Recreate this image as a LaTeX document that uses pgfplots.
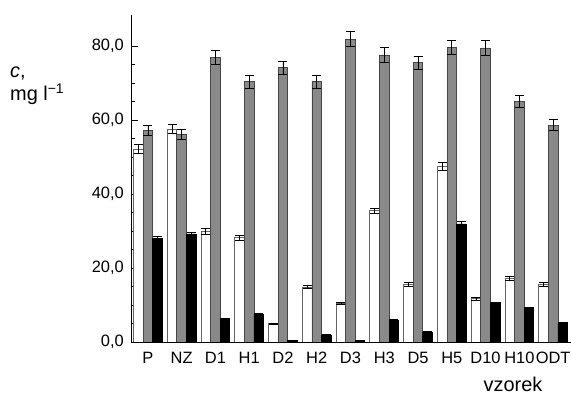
\documentclass[border=0pt]{standalone}
\usepackage{fontspec}
\setmainfont{Liberation Sans}
\usepackage{pgfplots}
\usepackage{pgfplotstable}
\pgfplotsset{compat=1.18}
\definecolor{barg}{RGB}{137,137,137}
\definecolor{edg}{RGB}{70,70,70}
\definecolor{wedg}{RGB}{100,100,100}
\pgfplotstableread{
x y e
0 52.2 1.3
1 57.6 1.3
2 29.9 0.7
3 28.2 0.6
4 4.9 0.2
5 14.8 0.4
6 10.4 0.2
7 35.5 0.7
8 15.5 0.5
9 47.4 1.1
10 11.7 0.4
11 17.3 0.5
12 15.5 0.5
}\whitedata
\pgfplotstableread{
x y e
0 57.3 1.4
1 56.1 1.4
2 77.0 1.9
3 70.4 1.8
4 74.1 1.7
5 70.4 1.8
6 81.9 2.0
7 77.6 2.0
8 75.5 1.8
9 79.7 1.9
10 79.5 2.0
11 65.1 1.7
12 58.6 1.5
}\graydata
\pgfplotstableread{
x y e
0 28.0 0.5
1 29.2 0.5
2 6.3 0.2
3 7.5 0.2
4 0.3 0.1
5 1.9 0.1
6 0.3 0.1
7 5.8 0.2
8 2.7 0.1
9 31.9 0.7
10 10.6 0.2
11 9.3 0.2
12 5.2 0.2
}\blackdata
\begin{document}
\begin{tikzpicture}
\useasboundingbox (-131bp,-52bp) rectangle (440bp,342bp);
\begin{axis}[
  scale only axis, width=440bp, height=327bp,
  xmin=-0.5, xmax=12.53, ymin=0, ymax=88.4,
  axis x line=bottom, axis y line=left,
  axis line style={-, line width=0.8bp, black},
  ybar=0pt, bar width=9.6bp,
  xtick={0,...,12},
  xticklabels={P,NZ,D1,H1,D2,H2,D3,H3,D5,H5,D10,H10,ODT},
  x tick style={draw=none},
  ytick={0,20,40,60,80}, minor y tick num=3,
  tick align=inside, major tick length=7bp, minor tick length=4bp,
  y tick style={line width=0.8bp, black},
  tick label style={font=\fontsize{16.5}{19}\selectfont},
  yticklabel style={inner sep=0pt, anchor=east, xshift=-7bp},
  xticklabel style={inner sep=0pt, anchor=north, yshift=-10bp},
  yticklabel={\pgfmathprintnumber[fixed,fixed zerofill,precision=1,use comma,assume math mode=true]{\tick}},
]
\addplot[fill=white, draw=wedg, line width=0.8bp,
  error bars/.cd, y dir=both, y explicit,
  error bar style={black, line width=0.7bp},
  error mark options={rotate=90, mark size=4.5bp, black, line width=0.7bp}]
  table[x=x, y=y, y error=e] {\whitedata};
\addplot[fill=barg, draw=edg, line width=0.8bp,
  error bars/.cd, y dir=both, y explicit,
  error bar style={black, line width=0.7bp},
  error mark options={rotate=90, mark size=4.5bp, black, line width=0.7bp}]
  table[x=x, y=y, y error=e] {\graydata};
\addplot[fill=black, draw=black, line width=0.8bp,
  error bars/.cd, y dir=both, y explicit,
  error bar style={black, line width=0.7bp},
  error mark options={rotate=90, mark size=4.5bp, black, line width=0.7bp}]
  table[x=x, y=y, y error=e] {\blackdata};
\end{axis}
\node[anchor=base west, inner sep=0pt, font=\fontsize{20}{24}\selectfont] at (-121bp,264bp) {\textit{c},};
\node[anchor=base west, inner sep=0pt, font=\fontsize{20}{24}\selectfont] at (-121bp,241bp) {mg l\textsuperscript{−1}};
\node[anchor=base, inner sep=0pt, font=\fontsize{20}{24}\selectfont] at (382bp,-49bp) {vzorek};
\end{tikzpicture}
\end{document}
